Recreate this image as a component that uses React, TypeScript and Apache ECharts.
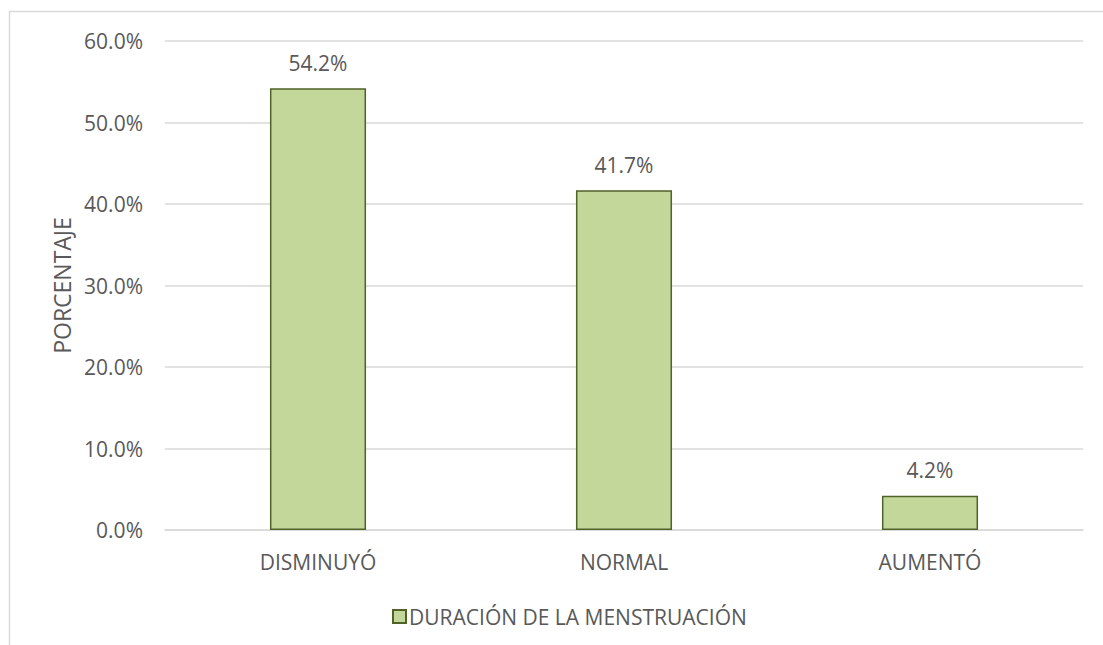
import React, { useEffect, useRef } from "react";
import * as echarts from "echarts";

const categories = ["DISMINUYÓ", "NORMAL", "AUMENTÓ"];
const values = [54.2, 41.7, 4.2];
const seriesName = "DURACIÓN DE LA MENSTRUACIÓN";
const yAxisTitle = "PORCENTAJE";

const FONT = "'Open Sans', sans-serif";
const TEXT = "#595959";

export default function App() {
  const ref = useRef<HTMLDivElement>(null);
  useEffect(() => {
    if (!ref.current) return;
    const chart = echarts.init(ref.current, null, { renderer: "svg" });
    chart.setOption({
      animation: false,
      backgroundColor: "#ffffff",
      textStyle: { fontFamily: FONT },
      graphic: [
        {
          type: "rect",
          shape: { x: 9.5, y: 11.5, width: 1200, height: 800 },
          style: { fill: "none", stroke: "#D9D9D9", lineWidth: 1.5 },
          silent: true,
        },
      ],
      grid: { left: 165, right: 20, top: 41, bottom: 115 },
      legend: {
        left: 387,
        top: 601,
        icon: "rect",
        itemWidth: 13,
        itemHeight: 13,
        itemGap: 6,
        textStyle: { fontFamily: FONT, fontSize: 21, color: TEXT, padding: [0, 0, 0, -2] },
        data: [seriesName],
      },
      xAxis: {
        type: "category",
        data: categories,
        axisLine: { show: true, lineStyle: { color: "#D9D9D9", width: 1.5 } },
        axisTick: { show: false },
        axisLabel: { fontFamily: FONT, fontSize: 21, color: TEXT, margin: 21 },
      },
      yAxis: {
        type: "value",
        min: 0,
        max: 60,
        interval: 10,
        name: yAxisTitle,
        nameLocation: "middle",
        nameGap: 92,
        nameRotate: 90,
        nameTextStyle: { fontFamily: FONT, fontSize: 23, color: TEXT },
        axisLine: { show: false },
        axisTick: { show: false },
        axisLabel: {
          fontFamily: FONT,
          fontSize: 21,
          color: TEXT,
          margin: 22,
          formatter: (v: number) => v.toFixed(1) + "%",
        },
        splitLine: { lineStyle: { color: "#D9D9D9", width: 1.5 } },
      },
      series: [
        {
          name: seriesName,
          type: "bar",
          data: values,
          barWidth: "31.4%",
          itemStyle: { color: "#C4D79B", borderColor: "#4F6228", borderWidth: 1.5 },
          label: {
            show: true,
            position: "top",
            distance: 15,
            fontFamily: FONT,
            fontSize: 21,
            color: TEXT,
            formatter: (p: any) => p.value.toFixed(1) + "%",
          },
        },
      ],
    });
    return () => chart.dispose();
  }, []);
  return (
    <div
      ref={ref}
      style={{ position: "fixed", left: 0, top: 0, width: 1103, height: 645 }}
    />
  );
}
